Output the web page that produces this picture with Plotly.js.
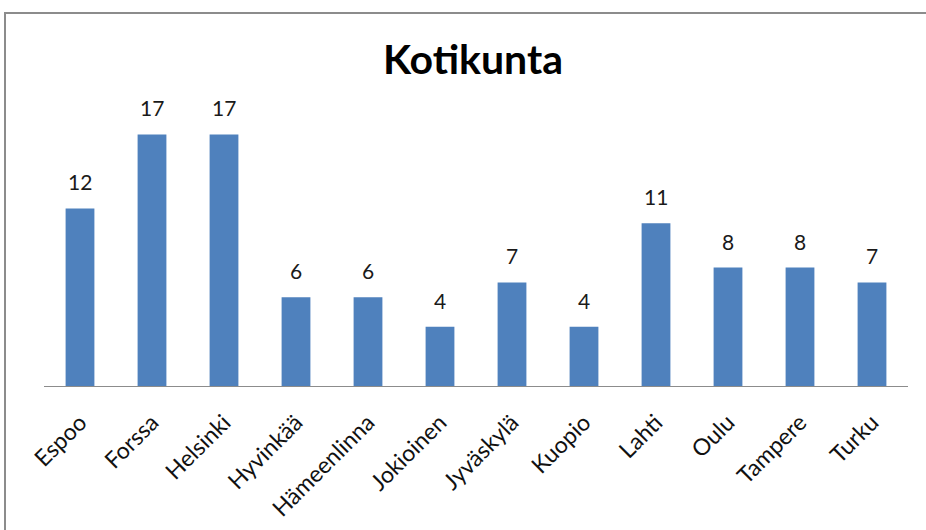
<!DOCTYPE html>
<html>
<head>
<meta charset="utf-8">
<script src="https://cdn.plot.ly/plotly-3.0.1.min.js"></script>
<style>
html,body{margin:0;padding:0;background:#fff;overflow:hidden;}
#wrap{position:relative;width:926px;height:530px;}
#chart{position:absolute;left:0;top:0;width:926px;height:530px;}
#frame{position:absolute;left:4px;top:12px;width:940px;height:540px;border:2px solid #8c8c8c;pointer-events:none;box-sizing:border-box;}
</style>
</head>
<body>
<div id="wrap"><div id="chart"></div><div id="frame"></div></div>
<script>
const categories = ["Espoo","Forssa","Helsinki","Hyvinkää","Hämeenlinna","Jokioinen","Jyväskylä","Kuopio","Lahti","Oulu","Tampere","Turku"];
const values = [12,17,17,6,6,4,7,4,11,8,8,7];
const chartTitle = "Kotikunta";

const FONT = "Lato, 'Open Sans', sans-serif";

const trace = {
  type: "bar",
  x: categories,
  y: values,
  marker: {color: "#4F81BD", line: {width: 0}},
  width: 0.4,
  hoverinfo: "none"
};

const labelAnnotations = categories.map((c, i) => ({
  x: c, y: values[i], xref: "x", yref: "y",
  text: String(values[i]),
  showarrow: false,
  yanchor: "bottom", xanchor: "center",
  yshift: 12,
  font: {family: FONT, size: 21, color: "#1a1a1a"}
}));

const layout = {
  width: 926, height: 530,
  paper_bgcolor: "#fff", plot_bgcolor: "#fff",
  margin: {l: 44, r: 18, t: 90, b: 144},
  showlegend: false,
  title: {
    text: "<b>" + chartTitle + "</b>",
    font: {family: FONT, size: 41, color: "#000"},
    x: 0.4965, xanchor: "center", xref: "paper",
    y: 1 - 60/530, yanchor: "middle", yref: "container"
  },
  xaxis: {
    tickangle: -45,
    tickfont: {family: FONT, size: 23, color: "#111"},
    ticklabelstandoff: 13,
    showline: true, linecolor: "#8c8c8c", linewidth: 1,
    ticks: "", showgrid: false, zeroline: false
  },
  yaxis: {
    range: [0, 20],
    visible: false, showgrid: false, zeroline: false
  },
  annotations: labelAnnotations,
  bargap: 0.6
};

Plotly.newPlot("chart", [trace], layout, {displayModeBar: false, staticPlot: true});
</script>
</body>
</html>
